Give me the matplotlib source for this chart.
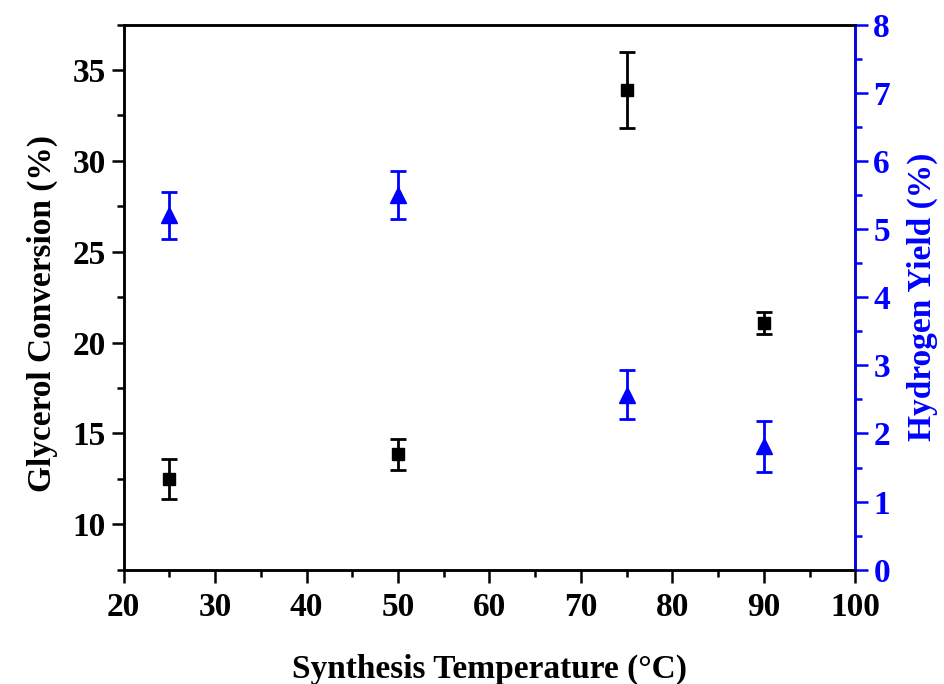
import matplotlib
matplotlib.use("Agg")
import matplotlib.pyplot as plt
from matplotlib.ticker import MultipleLocator

plt.rcParams['font.family'] = ['Liberation Serif', 'DejaVu Serif']
plt.rcParams['font.weight'] = 'bold'

temps = [25, 50, 75, 90]
conversion = [12.5, 13.85, 33.9, 21.1]
conversion_err = [1.1, 0.85, 2.1, 0.6]
h2_yield = [5.2, 5.5, 2.57, 1.81]
h2_yield_err = [0.34, 0.35, 0.36, 0.37]

blue = '#0000ff'

fig = plt.figure(figsize=(9.44, 6.84), dpi=100)
ax = fig.add_axes([0.131, 0.167, 0.775, 0.797])
ax2 = ax.twinx()

ax.errorbar(temps, conversion, yerr=conversion_err, fmt='s', color='black',
            ms=9, elinewidth=2, capsize=5.5, capthick=2)
ax2.errorbar(temps, h2_yield, yerr=h2_yield_err, fmt='^', color=blue,
             ms=12, elinewidth=2, capsize=5.5, capthick=2)

ax.set_xlim(20, 100)
ax.set_ylim(7.5, 37.5)
ax2.set_ylim(0, 8)

ax.xaxis.set_major_locator(MultipleLocator(10))
ax.xaxis.set_minor_locator(MultipleLocator(5))
ax.yaxis.set_major_locator(MultipleLocator(5))
ax.yaxis.set_minor_locator(MultipleLocator(2.5))
ax2.yaxis.set_major_locator(MultipleLocator(1))
ax2.yaxis.set_minor_locator(MultipleLocator(0.5))

for a in (ax, ax2):
    for s in a.spines.values():
        s.set_linewidth(1.8)
ax2.spines['right'].set_color(blue)

ax.tick_params(which='major', direction='out', length=9, width=1.8, labelsize=24, pad=4)
ax.tick_params(axis='x', which='major', pad=7)
ax.tick_params(which='minor', direction='out', length=5, width=1.8)
ax2.tick_params(which='major', direction='out', length=9, width=1.8, labelsize=24, pad=4,
                color=blue, labelcolor=blue)
ax2.tick_params(which='minor', direction='out', length=5, width=1.8, color=blue)

ax.set_xlabel('Synthesis Temperature (°C)', fontsize=24, fontweight='bold', labelpad=22)
ax.set_ylabel('Glycerol Conversion (%)', fontsize=24, fontweight='bold', labelpad=10, y=0.47)
ax2.set_ylabel('Hydrogen Yield (%)', fontsize=24, fontweight='bold', color=blue, labelpad=12)

fig.savefig('out.png', dpi=100)
